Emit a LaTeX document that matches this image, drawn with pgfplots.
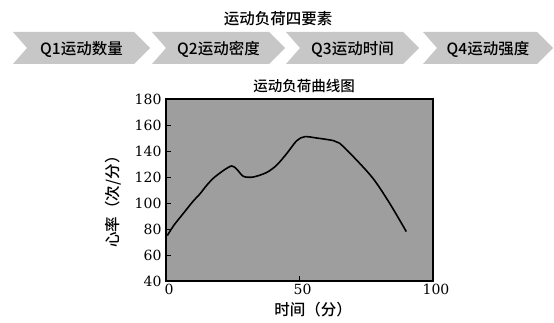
\documentclass[border=0pt]{standalone}
\usepackage{fontspec}
\setmainfont{Noto Sans CJK SC}[UprightFont=* Medium]
\newfontfamily\numfont{DejaVu Serif}
\usepackage{pgfplots}
\pgfplotsset{compat=1.18}
\definecolor{plotgray}{gray}{0.62}
\definecolor{chevgray}{gray}{0.78}
\begin{document}
\begin{tikzpicture}[x=1pt,y=1pt]
\path[use as bounding box] (0,0) rectangle (554,322);
% title
\node[font=\fontsize{15.5}{15.5}\selectfont] at (278,303) {运动负荷四要素};
% chevrons
\foreach \L/\T/\lab in {13/150/Q1运动数量,152/285/Q2运动密度,286/419/Q3运动时间,423/553/Q4运动强度}{
  \fill[chevgray] (\L,290) -- (\T-16,290) -- (\T,274) -- (\T-16,258) -- (\L,258) -- (\L+14,274) -- cycle;
  \node[font=\fontsize{15.5}{15.5}\selectfont] at ({(\L+\T)/2},273) {\lab};
}
% chart title
\node[font=\fontsize{14.5}{14.5}\selectfont] at (304,236) {运动负荷曲线图};
% axis labels
\node[font=\fontsize{15.5}{15.5}\selectfont, rotate=90] at (113,124) {心率（次/分）};
\node[font=\fontsize{15.5}{15.5}\selectfont] at (313,12) {时间（分）};
\begin{axis}[
  at={(166pt,41pt)}, anchor=south west,
  scale only axis, width=267pt, height=182pt,
  xmin=0, xmax=100, ymin=40, ymax=180,
  xtick={0,50,100}, ytick={40,60,...,180},
  axis background/.style={fill=plotgray},
  axis line style={line width=1.3pt},
  tick align=inside, tick pos=left,
  major tick length=5pt,
  tick style={black, line width=0.8pt},
  tick label style={font=\fontsize{14}{14}\selectfont},
  xticklabel={\numfont\pgfmathprintnumber{\tick}},
  yticklabel={\numfont\pgfmathprintnumber{\tick}},
  yticklabel style={xshift=-1pt},
  xticklabel style={xshift=3pt},
  /pgf/number format/assume math mode=true,
]
\addplot[black, line width=1.6pt, smooth, tension=0.5] coordinates {
(0.5,75) (3,83) (6.5,92) (10,101) (12.7,107) (15,113) (17.7,119) (21.5,125)
(24.6,128.5) (26.5,126) (29,120.5) (32.7,120) (37.7,123.5) (41.4,129) (45.2,138)
(49,148) (52,151) (56.4,150) (62.7,148) (65,146) (70,136) (77.5,119) (83.7,100) (90,78)
};
\end{axis}
\end{tikzpicture}
\end{document}
